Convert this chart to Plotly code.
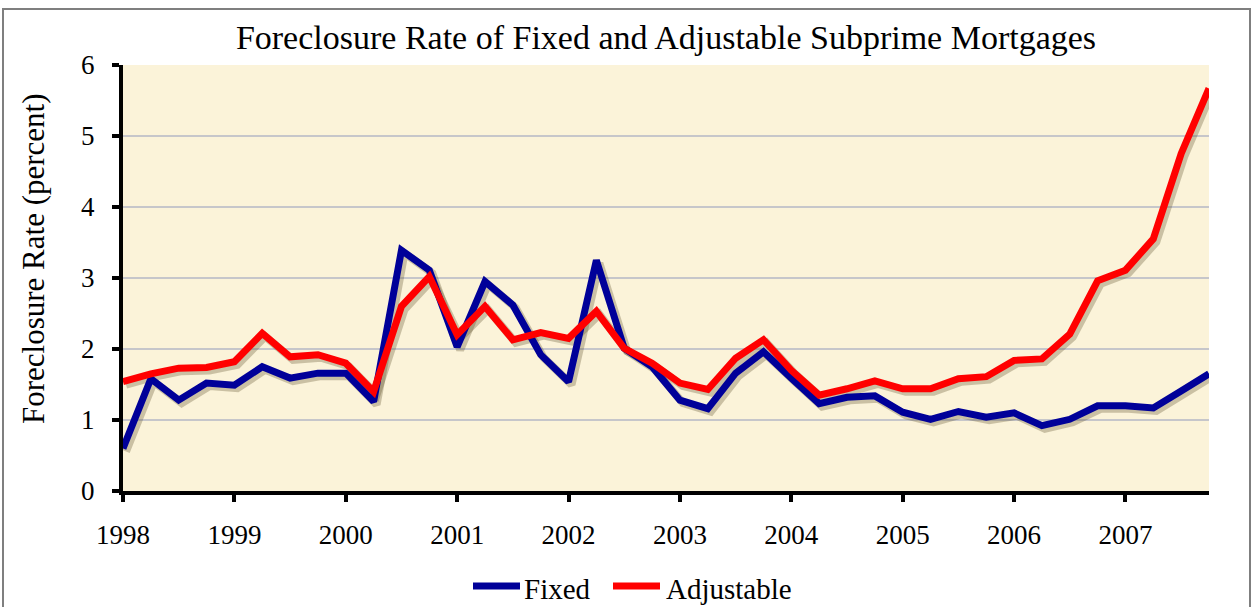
import plotly.graph_objects as go

quarters = [y + q / 4 for y in range(1998, 2008) for q in range(4)]

fixed = [0.60, 1.58, 1.28, 1.52, 1.49, 1.75, 1.59, 1.66, 1.66, 1.26,
         3.39, 3.11, 2.03, 2.95, 2.62, 1.92, 1.54, 3.25, 2.01, 1.75,
         1.28, 1.16, 1.66, 1.96, 1.59, 1.23, 1.32, 1.34, 1.11, 1.01,
         1.12, 1.04, 1.10, 0.92, 1.01, 1.20, 1.20, 1.17, 1.41, 1.65]

adjustable = [1.54, 1.65, 1.73, 1.74, 1.82, 2.22, 1.89, 1.92, 1.80, 1.40,
              2.60, 3.02, 2.20, 2.60, 2.13, 2.23, 2.15, 2.53, 2.01, 1.80,
              1.52, 1.43, 1.87, 2.13, 1.70, 1.35, 1.44, 1.55, 1.44, 1.44,
              1.58, 1.61, 1.84, 1.86, 2.21, 2.96, 3.11, 3.55, 4.75, 5.67]

series_names = ["Fixed", "Adjustable"]
series_colors = ["#000099", "#FF0000"]

year_ticks = list(range(1998, 2008))
year_labels = [str(y) for y in year_ticks]
y_ticks = [0, 1, 2, 3, 4, 5, 6]

FONT = "Liberation Serif, Times New Roman, serif"

W, H = 1253, 607
ml, mr, mt, mb = 123, 44, 65, 116
pw, ph = W - ml - mr, H - mt - mb
XR = [1998, 2007.75]
YR = [0, 6]
SH = 3  # shadow offset in px
dx = SH * (XR[1] - XR[0]) / pw
dy = SH * (YR[1] - YR[0]) / ph


def px_x(p):
    return (p - ml) / pw


def px_y(p):
    return (H - mb - p) / ph


fig = go.Figure()
# drop shadows (primary axes, range shifted by a few pixels)
for vals in (fixed, adjustable):
    fig.add_trace(go.Scatter(x=quarters, y=vals, mode="lines", showlegend=False,
                             hoverinfo="skip", xaxis="x", yaxis="y",
                             line=dict(color="rgba(90,75,40,0.30)", width=8)))
# main lines (overlay axes)
for vals, name, color in zip((fixed, adjustable), series_names, series_colors):
    fig.add_trace(go.Scatter(x=quarters, y=vals, mode="lines", name=name,
                             xaxis="x2", yaxis="y2", showlegend=False,
                             line=dict(color=color, width=7)))

# legend key (drawn manually so it does not push the plot margins)
legend_line_x = [(473, 520), (613, 660)]
legend_text_x = [522, 664]
LEG_Y = 586
shapes = [dict(type="rect", xref="paper", yref="paper",
               x0=px_x(3), x1=px_x(1250), y0=px_y(640), y1=px_y(9),
               line=dict(color="#7F7F7F", width=2), fillcolor="rgba(0,0,0,0)",
               layer="below")]
annotations = [dict(text="Foreclosure Rate (percent)", textangle=-90,
                    xref="paper", yref="paper", x=px_x(33), y=px_y(259),
                    xanchor="center", yanchor="middle", showarrow=False,
                    font=dict(size=31, family=FONT))]
for (x0, x1), tx, name, color in zip(legend_line_x, legend_text_x, series_names, series_colors):
    shapes.append(dict(type="line", xref="paper", yref="paper",
                       x0=px_x(x0), x1=px_x(x1), y0=px_y(LEG_Y), y1=px_y(LEG_Y),
                       line=dict(color=color, width=7)))
    annotations.append(dict(text=name, xref="paper", yref="paper",
                            x=px_x(tx), y=px_y(LEG_Y + 3), xanchor="left",
                            yanchor="middle", showarrow=False,
                            font=dict(size=29, family=FONT)))

fig.update_layout(
    width=W, height=H,
    margin=dict(l=ml, r=mr, t=mt, b=mb),
    paper_bgcolor="white",
    plot_bgcolor="#FBF3D9",
    font=dict(family=FONT, color="black", size=27),
    title=dict(text="Foreclosure Rate of Fixed and Adjustable Subprime Mortgages",
               x=666 / W, xanchor="center", y=1 - 37 / H, yanchor="middle",
               font=dict(size=34, family=FONT)),
    xaxis=dict(range=[XR[0] - dx, XR[1] - dx], showgrid=False, zeroline=False,
               showline=False, showticklabels=False, ticks=""),
    yaxis=dict(range=[YR[0] + dy, YR[1] + dy], showgrid=False, zeroline=False,
               showline=False, showticklabels=False, ticks=""),
    xaxis2=dict(range=XR, overlaying="x", anchor="y2", side="bottom",
                tickvals=year_ticks, ticktext=year_labels,
                showgrid=False, zeroline=False, showline=True, linecolor="black",
                linewidth=4, ticks="outside", ticklen=7, tickwidth=4, tickcolor="black",
                ticklabelstandoff=10, tickfont=dict(size=27, family=FONT)),
    yaxis2=dict(range=YR, overlaying="y", anchor="x2", side="left",
                tickvals=y_ticks, showgrid=True, gridcolor="#C6C6CA",
                gridwidth=1.5, zeroline=False, showline=True, linecolor="black",
                linewidth=4, ticks="outside", ticklen=7, tickwidth=4, tickcolor="black",
                ticklabelstandoff=12, tickfont=dict(size=27, family=FONT)),
    showlegend=False,
    annotations=annotations,
    shapes=shapes,
)

fig.write_html("out.html", config={"displayModeBar": False},
               post_script="document.body.style.margin='0';")
